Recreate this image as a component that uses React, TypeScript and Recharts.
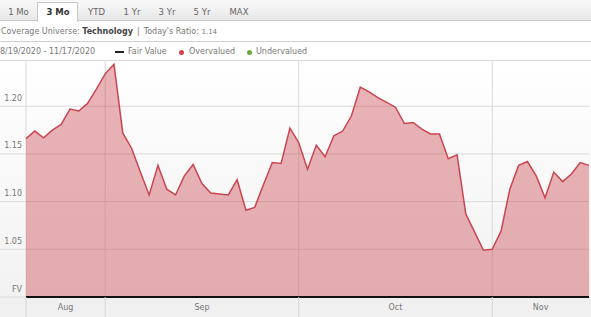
import React from "react";
import { AreaChart, Area, XAxis, YAxis, CartesianGrid } from "recharts";

const tabs = ["1 Mo", "3 Mo", "YTD", "1 Yr", "3 Yr", "5 Yr", "MAX"];
const tabCenters = [18.5, 58, 96.5, 132, 167, 202, 239];
const activeTab = "3 Mo";

const ratio = [
  1.166, 1.174, 1.167, 1.175, 1.181, 1.197, 1.195, 1.203, 1.218, 1.234,
  1.244, 1.172, 1.156, 1.131, 1.107, 1.138, 1.113, 1.107, 1.127, 1.139,
  1.119, 1.109, 1.108, 1.107, 1.123, 1.091, 1.094, 1.118, 1.141, 1.14,
  1.177, 1.162, 1.134, 1.159, 1.147, 1.169, 1.174, 1.19, 1.22, 1.215,
  1.209, 1.204, 1.199, 1.182, 1.183, 1.176, 1.171, 1.171, 1.145, 1.149,
  1.087, 1.068, 1.049, 1.05, 1.069, 1.113, 1.138, 1.142, 1.127, 1.104,
  1.131, 1.121, 1.129, 1.141, 1.138,
];

const monthLabels = ["Aug", "Sep", "Oct", "Nov"];
const monthStartIdx = [0, 9, 31, 53];
const monthLabelIdx = [4.5, 20, 42, 58.5];

const yTicks = [1.0, 1.05, 1.1, 1.15, 1.2];
const yTickLabels = ["FV", "1.05", "1.10", "1.15", "1.20"];
const yMax = 1.2485;

const data = ratio.map((v, i) => ({ i, v }));

const FONT = "'DejaVu Sans', Verdana, sans-serif";

const YTick = (props: any) => {
  const { y, payload } = props;
  const idx = yTicks.findIndex((t) => Math.abs(t - payload.value) < 1e-6);
  return (
    <g>
      <line x1={0} x2={26} y1={y} y2={y} stroke="#dadada" strokeWidth={1} />
      <text
        x={22}
        y={y - 5.5}
        textAnchor="end"
        fontSize={8}
        fill="#777"
        fontFamily={FONT}
      >
        {idx >= 0 ? yTickLabels[idx] : ""}
      </text>
    </g>
  );
};

const XTick = (props: any) => {
  const { x, y, payload } = props;
  const si = monthStartIdx.indexOf(payload.value);
  if (si >= 0) {
    return <line x1={x} x2={x} y1={y} y2={y + 20} stroke="#d6d6d6" strokeWidth={1} />;
  }
  const li = monthLabelIdx.indexOf(payload.value);
  return (
    <text
      x={x}
      y={y + 13}
      textAnchor="middle"
      fontSize={8}
      fill="#777"
      fontFamily={FONT}
    >
      {li >= 0 ? monthLabels[li] : ""}
    </text>
  );
};

export default function App() {
  return (
    <div
      style={{
        position: "absolute",
        left: 0,
        top: 0,
        width: 591,
        height: 317,
        overflow: "hidden",
        background: "#fff",
        fontFamily: FONT,
      }}
    >
      {/* tab bar */}
      <div
        style={{
          position: "absolute",
          left: 0,
          top: 0,
          width: 591,
          height: 20,
          background: "linear-gradient(#f8f8f8, #e8e8e8)",
          borderBottom: "1px solid #c8c8c8",
        }}
      />
      <div
        style={{
          position: "absolute",
          left: 37,
          top: 2,
          width: 39,
          height: 19,
          background: "#fff",
          border: "1px solid #c8c8c8",
          borderBottom: "none",
        }}
      />
      {tabs.map((t, k) => (
        <div
          key={t}
          style={{
            position: "absolute",
            left: tabCenters[k] - 25,
            width: 50,
            top: 6,
            textAlign: "center",
            fontSize: 8.5,
            lineHeight: "12px",
            color: t === activeTab ? "#333" : "#666",
            fontWeight: t === activeTab ? "bold" : "normal",
          }}
        >
          {t}
        </div>
      ))}

      {/* coverage line */}
      <div
        style={{
          position: "absolute",
          left: 1,
          top: 25.5,
          fontSize: 8,
          lineHeight: "12px",
          color: "#777",
          whiteSpace: "nowrap",
        }}
      >
        Coverage Universe: <b style={{ color: "#444" }}>Technology</b>
        <span style={{ margin: "0 4px" }}>|</span>Today's Ratio:{" "}
        <span style={{ fontSize: 7 }}>1.14</span>
      </div>
      <div
        style={{
          position: "absolute",
          left: 0,
          top: 41,
          width: 591,
          height: 1,
          background: "#d0d0d0",
        }}
      />

      {/* legend line */}
      <div
        style={{
          position: "absolute",
          left: 0,
          top: 46,
          fontSize: 8,
          lineHeight: "12px",
          color: "#777",
          whiteSpace: "nowrap",
        }}
      >
        8/19/2020 - 11/17/2020
      </div>
      <div
        style={{
          position: "absolute",
          left: 115,
          top: 51,
          width: 9,
          height: 2,
          background: "#222",
        }}
      />
      <div
        style={{
          position: "absolute",
          left: 128,
          top: 46,
          fontSize: 8,
          lineHeight: "12px",
          color: "#777",
        }}
      >
        Fair Value
      </div>
      <div
        style={{
          position: "absolute",
          left: 179,
          top: 49.5,
          width: 5,
          height: 5,
          borderRadius: 3,
          background: "#d4404c",
        }}
      />
      <div
        style={{
          position: "absolute",
          left: 189,
          top: 46,
          fontSize: 8,
          lineHeight: "12px",
          color: "#777",
        }}
      >
        Overvalued
      </div>
      <div
        style={{
          position: "absolute",
          left: 246.5,
          top: 49.5,
          width: 5,
          height: 5,
          borderRadius: 3,
          background: "#6aa83c",
        }}
      />
      <div
        style={{
          position: "absolute",
          left: 256,
          top: 46,
          fontSize: 8,
          lineHeight: "12px",
          color: "#777",
        }}
      >
        Undervalued
      </div>

      {/* chart backgrounds */}
      <div
        style={{
          position: "absolute",
          left: 0,
          top: 60,
          width: 591,
          height: 237,
          background: "linear-gradient(#ffffff, #f2f2f2)",
        }}
      />
      <div
        style={{
          position: "absolute",
          left: 0,
          top: 60,
          width: 591,
          height: 1,
          background: "#d8d8d8",
        }}
      />
      <div
        style={{
          position: "absolute",
          left: 0,
          top: 297,
          width: 591,
          height: 20,
          background: "#f0f0f0",
        }}
      />

      <div style={{ position: "absolute", left: 0, top: 60 }}>
        <AreaChart
          width={591}
          height={257}
          data={data}
          margin={{ top: 0, right: 2, bottom: 0, left: 0 }}
        >
          <CartesianGrid
            stroke="#dadada"
            horizontalValues={yTicks}
            verticalValues={monthStartIdx}
          />
          <XAxis
            dataKey="i"
            type="number"
            domain={[0, 64]}
            ticks={[...monthStartIdx, ...monthLabelIdx]}
            interval={0}
            height={20}
            tickSize={0}
            tickMargin={0}
            tickLine={false}
            axisLine={{ stroke: "#111", strokeWidth: 2 }}
            tick={<XTick />}
          />
          <YAxis
            type="number"
            domain={[1.0, yMax]}
            ticks={yTicks}
            interval={0}
            width={26}
            tickSize={0}
            tickMargin={0}
            tickLine={false}
            axisLine={false}
            tick={<YTick />}
            allowDataOverflow
          />
          <Area
            type="linear"
            dataKey="v"
            stroke="#c94650"
            strokeWidth={1.5}
            fill="#c8424c"
            fillOpacity={0.4}
            baseValue={1.0}
            isAnimationActive={false}
            dot={false}
            activeDot={false}
          />
        </AreaChart>
      </div>
    </div>
  );
}
